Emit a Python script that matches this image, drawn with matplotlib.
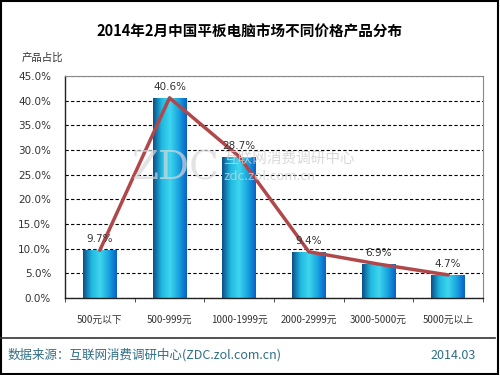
import numpy as np
import matplotlib.pyplot as plt
from matplotlib.colors import LinearSegmentedColormap
from matplotlib.patches import Rectangle

plt.rcParams['font.family'] = ['Noto Sans CJK SC', 'DejaVu Sans']

categories = ['500元以下', '500-999元', '1000-1999元', '2000-2999元', '3000-5000元', '5000元以上']
shares = [9.7, 40.6, 28.7, 9.4, 6.9, 4.7]
labels = ['9.7%', '40.6%', '28.7%', '9.4%', '6.9%', '4.7%']
yticks = [0, 5, 10, 15, 20, 25, 30, 35, 40, 45]

fig = plt.figure(figsize=(5, 3.75), dpi=100)
ax = fig.add_axes([0.13, 0.205, 0.836, 0.592])

x = np.arange(len(categories))
bars = ax.bar(x, shares, width=0.48, color='#1a9fd8', zorder=2)

# horizontal gradient inside each bar
cmap = LinearSegmentedColormap.from_list('barg', ['#0d4f8a', '#1fb8e0', '#3fd6ee', '#1aa6e0', '#0a62c8'])
grad = np.linspace(0, 1, 64).reshape(1, -1)
for b in bars:
    im = ax.imshow(grad, cmap=cmap, aspect='auto', zorder=2.5,
                   extent=[b.get_x(), b.get_x() + b.get_width(), 0, b.get_height()])
    im.set_clip_path(b)

ax.plot(x, shares, color='#b0474a', lw=2.5, zorder=3, solid_capstyle='round')

for xi, v, t in zip(x, shares, labels):
    ax.text(xi, v + 1.2, t, ha='center', va='bottom', fontsize=7.5, color='#333333',
            family='DejaVu Sans', zorder=4)

ax.set_xlim(-0.5, len(categories) - 0.5)
ax.set_ylim(0, 45)
ax.set_yticks(yticks)
ax.set_yticklabels(['%.1f%%' % v for v in yticks], fontsize=7.5, color='#333333', family='DejaVu Sans')
ax.set_xticks(x)
ax.set_xticklabels(categories, fontsize=7, color='#333333')
ax.set_xticks(np.arange(-0.5, len(categories)), minor=True)
ax.tick_params(axis='x', which='major', length=0, pad=12)
ax.tick_params(axis='x', which='minor', length=3, color='#333333')
ax.tick_params(axis='y', length=0, pad=10)
ax.yaxis.grid(True, linestyle=(0, (3, 2)), color='black', lw=0.8, zorder=1)
ax.set_axisbelow(True)
for side in ['top', 'right']:
    ax.spines[side].set_color('#888888')
for side in ['left', 'bottom']:
    ax.spines[side].set_color('#222222')
    ax.spines[side].set_linewidth(1.0)

# watermark
fig.text(0.262, 0.52, 'ZDC', fontsize=28, color='#d8d8d8', alpha=0.7, family='DejaVu Serif', zorder=0)
fig.text(0.446, 0.565, '互联网消费调研中心', fontsize=10.5, color='#d0d0d0', alpha=0.8, zorder=0)
fig.text(0.446, 0.52, 'zdc.zol.com.cn', fontsize=9.5, color='#d0d0d0', alpha=0.8, zorder=0)

fig.text(0.5, 0.915, '2014年2月中国平板电脑市场不同价格产品分布', ha='center', va='center',
         fontsize=10.5, fontweight='bold', color='black')
fig.text(0.044, 0.845, '产品占比', fontsize=7.5, color='#333333', va='center')

# footer
fig.add_artist(plt.Line2D([0.0, 0.99], [0.1, 0.1], color='#333333', lw=1.2, transform=fig.transFigure))
fig.text(0.016, 0.053, '数据来源：互联网消费调研中心(ZDC.zol.com.cn)', fontsize=9, color='#2f6f86', va='center')
fig.text(0.952, 0.053, '2014.03', fontsize=9, color='#2f6f86', va='center', ha='right')

fig.add_artist(Rectangle((0.002, 0.003), 0.994, 0.994, transform=fig.transFigure,
                         fill=False, edgecolor='black', lw=1.5))

fig.savefig('out.png', dpi=100)
